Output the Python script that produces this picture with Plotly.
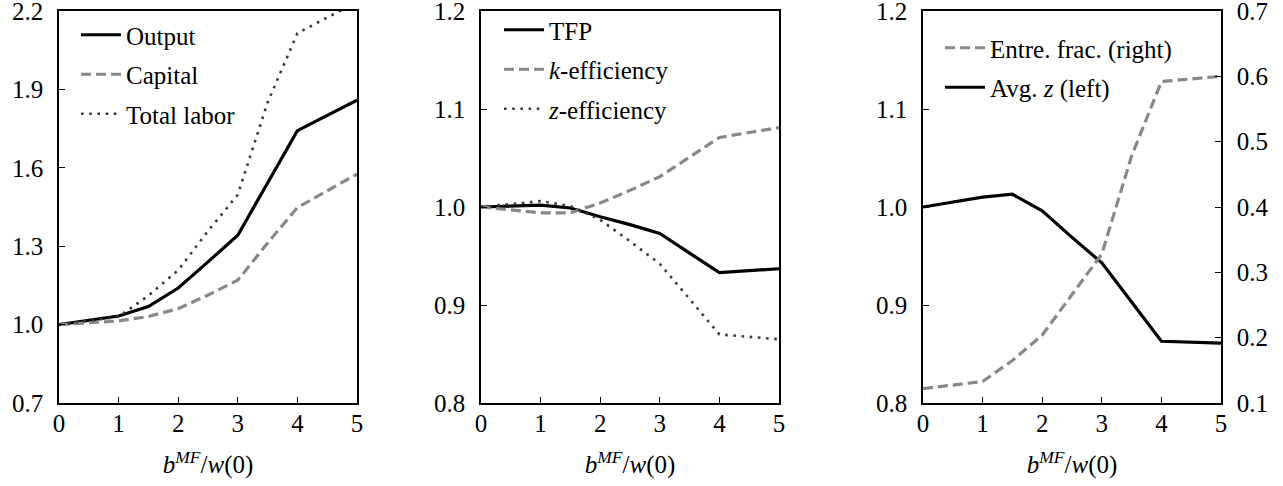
import plotly.graph_objects as go

# ---- data ----
x = [0, 1, 1.5, 2, 2.5, 3, 3.5, 4, 5]

output = [1.0, 1.033, 1.069, 1.140, 1.240, 1.342, 1.542, 1.742, 1.859]
capital = [1.0, 1.014, 1.031, 1.061, 1.113, 1.170, 1.312, 1.448, 1.576]
total_labor = [1.0, 1.030, 1.111, 1.208, 1.358, 1.497, 1.850, 2.115, 2.235]

tfp = [1.0, 1.002, 0.999, 0.990, 0.982, 0.973, 0.953, 0.933, 0.937]
k_eff = [1.0, 0.994, 0.994, 1.004, 1.017, 1.031, 1.051, 1.071, 1.081]
z_eff = [1.0, 1.006, 1.001, 0.987, 0.965, 0.942, 0.906, 0.870, 0.865]

avg_z = [1.0, 1.010, 1.013, 0.996, 0.969, 0.943, 0.903, 0.863, 0.861]
entre_frac = [0.122, 0.133, 0.165, 0.204, 0.266, 0.328, 0.478, 0.592, 0.600]

xticks = [0, 1, 2, 3, 4, 5]
yticks1 = [0.7, 1.0, 1.3, 1.6, 1.9, 2.2]
yticks2 = [0.8, 0.9, 1.0, 1.1, 1.2]
yticks3 = [0.8, 0.9, 1.0, 1.1, 1.2]
yticks3r = [0.1, 0.2, 0.3, 0.4, 0.5, 0.6, 0.7]

xtitle = "<i>b</i><sup><i>MF</i></sup>/<i>w</i>(0)"

# ---- styles ----
W, H = 1283, 486
FONT = "'Liberation Serif', 'DejaVu Serif', 'Times New Roman', serif"
FS = 25
BLACK = "#000000"
GRAY = "#888888"
DOTC = "#3a3a3a"
solid = dict(color=BLACK, width=3.2)
dashed = dict(color=GRAY, width=3.2, dash="10px,5px")
dotted = dict(color=DOTC, width=2.6, dash="2.6px,5.6px")

def px_x(p):
    return p / W

def px_y(p):
    return 1 - p / H

fig = go.Figure()

# panel 1
fig.add_trace(go.Scatter(x=x, y=output, mode="lines", name="Output", line=solid,
                         xaxis="x", yaxis="y", legend="legend", legendgroup="a"))
fig.add_trace(go.Scatter(x=x, y=capital, mode="lines", name="Capital", line=dashed,
                         xaxis="x", yaxis="y", legend="legend", legendgroup="b"))
fig.add_trace(go.Scatter(x=x, y=total_labor, mode="lines", name="Total labor", line=dotted,
                         xaxis="x", yaxis="y", legend="legend", legendgroup="c"))
# panel 2
fig.add_trace(go.Scatter(x=x, y=tfp, mode="lines", name="TFP", line=solid,
                         xaxis="x2", yaxis="y2", legend="legend2", legendgroup="d"))
fig.add_trace(go.Scatter(x=x, y=k_eff, mode="lines", name="<i>k</i>-efficiency", line=dashed,
                         xaxis="x2", yaxis="y2", legend="legend2", legendgroup="e"))
fig.add_trace(go.Scatter(x=x, y=z_eff, mode="lines", name="<i>z</i>-efficiency", line=dotted,
                         xaxis="x2", yaxis="y2", legend="legend2", legendgroup="f"))
# panel 3
fig.add_trace(go.Scatter(x=x, y=entre_frac, mode="lines", name="Entre. frac. (right)", line=dashed,
                         xaxis="x3", yaxis="y4", legend="legend3", legendgroup="g"))
fig.add_trace(go.Scatter(x=x, y=avg_z, mode="lines", name="Avg. <i>z</i> (left)", line=solid,
                         xaxis="x3", yaxis="y3", legend="legend3", legendgroup="h"))

ydom = [px_y(403), px_y(11)]
panels = [(59, 357), (481, 779), (923, 1221)]

axis_common = dict(
    showline=True, linecolor=BLACK, linewidth=1.6, mirror=True,
    ticks="inside", ticklen=6, tickwidth=1.4, tickcolor=BLACK,
    showgrid=False, zeroline=False, ticklabeloverflow="allow",
    tickfont=dict(family=FONT, size=FS, color=BLACK),
)

layout = dict(
    width=W, height=H,
    margin=dict(l=0, r=0, t=0, b=0),
    paper_bgcolor="white", plot_bgcolor="white",
    font=dict(family=FONT, size=FS, color=BLACK),
    showlegend=True,
)

for i, (l, r) in enumerate(panels):
    key = "xaxis" if i == 0 else f"xaxis{i+1}"
    anchor = "y" if i == 0 else f"y{i+1}"
    layout[key] = dict(axis_common, domain=[px_x(l), px_x(r)], range=[0, 5],
                       tickvals=xticks, anchor=anchor, ticklabelstandoff=-3,
                       title=dict(text=xtitle, font=dict(family=FONT, size=FS), standoff=20),
                       automargin=False)

layout["yaxis"] = dict(axis_common, domain=ydom, range=[0.7, 2.2], tickvals=yticks1,
                       tickformat=".1f", anchor="x", ticklabelstandoff=9, automargin=False)
layout["yaxis2"] = dict(axis_common, domain=ydom, range=[0.8, 1.2], tickvals=yticks2,
                        tickformat=".1f", anchor="x2", ticklabelstandoff=9, automargin=False)
layout["yaxis3"] = dict(axis_common, domain=ydom, range=[0.8, 1.2], tickvals=yticks3,
                        tickformat=".1f", anchor="x3", ticklabelstandoff=9, automargin=False)
layout["yaxis4"] = dict(axis_common, domain=ydom, range=[0.1, 0.7], tickvals=yticks3r,
                        tickformat=".1f", anchor="x3", overlaying="y3", side="right",
                        mirror=False, ticklabelstandoff=9, automargin=False)

leg_common = dict(bgcolor="rgba(0,0,0,0)", borderwidth=0, xanchor="left", yanchor="top",
                  font=dict(family=FONT, size=FS, color=BLACK), tracegroupgap=4,
                  itemwidth=40)
layout["legend"] = dict(leg_common, x=px_x(76), y=px_y(12))
layout["legend2"] = dict(leg_common, x=px_x(499), y=px_y(7))
layout["legend3"] = dict(leg_common, x=px_x(940), y=px_y(25))

fig.update_layout(**layout)
fig.write_html("out.html", config={"displayModeBar": False},
               post_script="document.body.style.margin='0';document.body.style.overflow='hidden';")
